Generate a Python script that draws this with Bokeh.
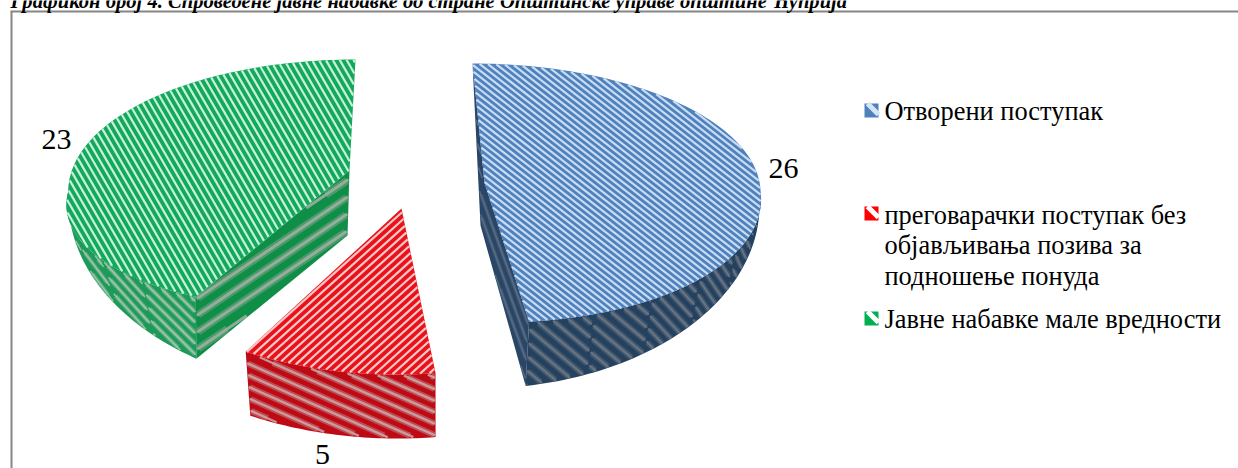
import math
from bokeh.plotting import figure
from bokeh.embed import file_html
from bokeh.resources import INLINE
from bokeh.core.properties import value

# ---- data ----
categories = ["Отворени поступак",
              "преговарачки поступак без објављивања позива за подношење понуда",
              "Јавне набавке мале вредности"]
values = [26, 5, 23]
value_labels = ["26", "5", "23"]
title = "Графикон број 4. Спроведене јавне набавке од стране Општинске управе општине Ћуприја"
legend_lines = [["Отворени поступак"],
                ["преговарачки поступак без", "објављивања позива за", "подношење понуда"],
                ["Јавне набавке мале вредности"]]

# ---- layout of the exploded, tilted 3D pie (screen pixels) ----
FONT = value("Liberation Serif")
total = sum(values)
sweep = [v / total * 360 for v in values]
starts = [sum(sweep[:i]) for i in range(3)]
ends = [s + w for s, w in zip(starts, sweep)]

def ell(g, t):
    r = math.radians(t)
    s, c = math.sin(r), math.cos(r)
    ry = g["ryt"] if c > 0 else g["ryb"]
    y = g["cy"] - ry * c
    x = g["cx"] + g["rx"] * s
    x += (g.get("skew_top", 0) if c > 0 else g.get("skew", 0)) * (y - g["cy"])
    return (x, y)

def arc(g, a, b, n=60):
    return [ell(g, a + (b - a) * i / n) for i in range(n + 1)]

def stripes(poly, angle, period, width, phase=0.0, trim=0.5):
    a = math.radians(angle)
    ux, uy = math.cos(a), math.sin(a)
    vx, vy = -uy, ux
    pts = [(x * ux + y * uy, x * vx + y * vy) for x, y in poly]
    vs = [q[1] for q in pts]
    xs, ys = [], []
    k = math.floor((min(vs) - phase) / period)
    while phase + k * period < max(vs):
        v = phase + k * period
        k += 1
        hits = []
        for i in range(len(pts)):
            (u0, v0), (u1, v1) = pts[i], pts[(i + 1) % len(pts)]
            if (v0 <= v) != (v1 <= v):
                slope = abs((u1 - u0) / (v1 - v0))
                hits.append((u0 + (v - v0) / (v1 - v0) * (u1 - u0), min(trim * width * slope, 40)))
        hits.sort()
        for j in range(0, len(hits) - 1, 2):
            u0, u1 = hits[j][0] + hits[j][1], hits[j + 1][0] - hits[j + 1][1]
            if u1 > u0:
                xs.append([u0 * ux + v * vx, u1 * ux + v * vx])
                ys.append([u0 * uy + v * vy, u1 * uy + v * vy])
    return xs, ys

p = figure(width=1238, height=468, x_range=(0, 1238), y_range=(468, 0),
           output_backend="svg", toolbar_location=None, min_border=0,
           outline_line_color=None, background_fill_color="white")
p.axis.visible = False
p.grid.visible = False

def soft_stripes(poly, stripe, angle, period, width, phase=0.0):
    xs, ys = stripes(poly, angle, period, width * 1.5, phase)
    p.multi_line(xs, ys, line_color=stripe, line_width=width * 1.5, line_alpha=0.4, line_cap="butt")
    xs, ys = stripes(poly, angle, period, width * 0.6, phase)
    p.multi_line(xs, ys, line_color=stripe, line_width=width * 0.6, line_alpha=0.85, line_cap="butt")

def face(poly, base, stripe, angle, period, width, phase=0.0, soft=False):
    p.patch([q[0] for q in poly], [q[1] for q in poly], fill_color=base, line_color=None)
    if soft:
        soft_stripes(poly, stripe, angle, period, width, phase)
    else:
        xs, ys = stripes(poly, angle, period, width, phase, trim=0.2)
        p.multi_line(xs, ys, line_color=stripe, line_width=width, line_cap="butt")

def wall(gt, gl, t0, t1, l0, l1, base, stripe, angles, periods, widths):
    whole = arc(gt, t0, t1, 60) + arc(gl, l1, l0, 60)
    p.patch([q[0] for q in whole], [q[1] for q in whole], fill_color=base, line_color=None)
    n = len(angles)
    for i in range(n):
        a0, a1 = t0 + (t1 - t0) * i / n, t0 + (t1 - t0) * (i + 1) / n
        b0, b1 = l0 + (l1 - l0) * i / n, l0 + (l1 - l0) * (i + 1) / n
        soft_stripes(arc(gt, a0, a1, 16) + arc(gl, b1, b0, 16), stripe, angles[i], periods[i], widths[i])

# blue slice
BT = dict(cx=478, cy=190, rx=282, ryt=127, ryb=132, skew=0.136, skew_top=0.047)
BL = dict(cx=478, cy=205, rx=281, ryt=183, ryb=183)
b_apex, b_apex_low = (484, 182), (480, 225)
b_top = arc(BT, starts[0], ends[0], 120)
wall(BT, BL, 91, ends[0], 91, ends[0] - 3, "#24415F", "#6F7884",
     [76, 66, 56, 47, 40, 40], [7, 8, 9, 10, 11, 11], [3, 3.2, 3.5, 3.8, 4, 4])
e0, e1 = ell(BT, ends[0]), ell(BL, ends[0] - 3)
s0 = ell(BT, starts[0])
face([s0, b_apex, e0, e1, b_apex_low], "#2A4666", "#5E7086", 70, 7, 2.5, soft=True)
face(b_top + [b_apex], "#4F81BD", "#C8DCF3", 38, 5, 2.2)

# red slice
RT = dict(cx=396, cy=160, rx=336, ryt=214, ryb=214)
RL = dict(cx=397, cy=224, rx=328, ryt=214, ryb=214)
r_apex = (401, 208)
r_arc = arc(RT, starts[1], ends[1], 40)
face(r_arc + arc(RL, ends[1], starts[1], 40), "#BE0A14", "#C8ABAB", 24, 10.5, 4, soft=True)
face(r_arc + [r_apex], "#E8121B", "#FBC6C6", -42, 6, 2.2)

# green slice
GT = dict(cx=355, cy=190, rx=287, ryt=131, ryb=119, skew=-0.29)
GL = dict(cx=355, cy=200, rx=287, ryt=190, ryb=190)
g_apex, g_apex_low = (349, 170), (347, 235)
g_arc = arc(GT, starts[2], ends[2], 140)
g_end = ell(GT, starts[2])
g_low = ell(GL, starts[2] + 7)
wall(GT, GL, starts[2], 276, starts[2] + 7, 270, "#1E9A58", "#ADC8B6",
     [45, 48, 53, 60, 68], [7.5, 7, 6.5, 5.5, 4.5], [3, 2.8, 2.6, 2.2, 2])
face([g_apex, g_end, g_low, g_apex_low], "#0F8E47", "#A3B0A5", -34, 14, 5, phase=7, soft=True)
face(g_arc + [g_apex], "#14A85E", "#C6F2D6", 60, 6, 2.2)

# frame
p.multi_line([[11, 11], [10, 1238]], [[468, 11], [11, 11]], line_color="#868686", line_width=2)

# title
p.text([10], [0], text=[title], text_font=FONT, text_font_size="20.6px", text_font_style="bold italic",
       text_color="black", text_baseline="alphabetic", text_align="left")

# value labels
p.text([783, 322, 56], [168, 454, 139], text=value_labels, text_font=FONT, text_font_size="30px",
       text_color="black", text_baseline="middle", text_align="center")

# legend
swatch_colors = ["#4F81BD", "#FF0000", "#00B050"]
swatch_band = ["#D6E4F5", "#FFFFFF", "#FFFFFF"]
swatch_y = [110, 213, 318]
baselines = [[110], [214, 244, 275], [318]]
for lines, ys, c, band, sy in zip(legend_lines, baselines, swatch_colors, swatch_band, swatch_y):
    sq = [(864, sy - 7), (878, sy - 7), (878, sy + 7), (864, sy + 7)]
    p.patch([q[0] for q in sq], [q[1] for q in sq], fill_color=c, line_color=None)
    a = math.sqrt(0.5)
    ph = (-871 * a + (sy - 3) * a)
    xs, ys2 = stripes(sq, 45, 100, 0, phase=ph)
    p.multi_line(xs, ys2, line_color=band, line_width=5)
    p.text([884] * len(lines), ys, text=lines, text_font=FONT, text_font_size="26.4px",
           text_color="black", text_baseline="alphabetic", text_align="left")

open("out.html", "w").write(file_html(p, INLINE))
